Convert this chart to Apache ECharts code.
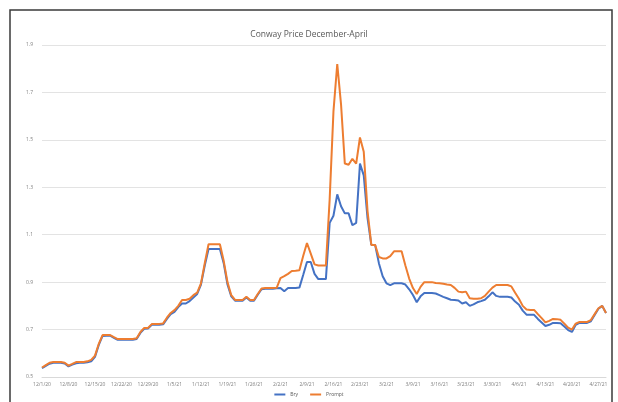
<!DOCTYPE html>
<html>
<head>
<meta charset="utf-8">
<script src="https://cdn.jsdelivr.net/npm/echarts@6/dist/echarts.min.js"></script>
<style>
  html, body { margin: 0; padding: 0; background: #ffffff; }
  #chart { width: 618px; height: 402px; }
</style>
</head>
<body>
<div id="chart"></div>
<script>
// Daily prices, 12/1/20 through 4/29/21
const startDate = new Date(2020, 11, 1);
const dayCount = 150;
const days = [];
for (let i = 0; i < dayCount; i++) {
  const d = new Date(startDate.getFullYear(), startDate.getMonth(), startDate.getDate() + i);
  days.push((d.getMonth() + 1) + '/' + d.getDate() + '/' + String(d.getFullYear()).slice(2));
}

const bry = [
  0.537, 0.547, 0.556, 0.56, 0.56, 0.56, 0.557, 0.545, 0.552, 0.558,
  0.56, 0.56, 0.562, 0.566, 0.585, 0.635, 0.673, 0.674, 0.674, 0.665,
  0.657, 0.657, 0.657, 0.657, 0.657, 0.66, 0.686, 0.703, 0.704, 0.72,
  0.72, 0.72, 0.722, 0.745, 0.765, 0.775, 0.795, 0.81, 0.81, 0.82,
  0.835, 0.85, 0.89, 0.97, 1.04, 1.04, 1.04, 1.04, 0.98, 0.89,
  0.84, 0.822, 0.822, 0.822, 0.835, 0.822, 0.822, 0.847, 0.87, 0.872,
  0.872, 0.872, 0.874, 0.875, 0.862, 0.875, 0.875, 0.875, 0.877, 0.93,
  0.985, 0.985, 0.935, 0.913, 0.913, 0.913, 1.15, 1.18, 1.27, 1.22,
  1.19, 1.19, 1.14, 1.15, 1.40, 1.35, 1.17, 1.057, 1.057, 0.98,
  0.925, 0.895, 0.887, 0.895, 0.895, 0.895, 0.89, 0.87, 0.846, 0.815,
  0.84, 0.854, 0.854, 0.854, 0.852, 0.845, 0.838, 0.832, 0.826, 0.825,
  0.823, 0.81, 0.815, 0.80, 0.806, 0.815, 0.82, 0.826, 0.84, 0.857,
  0.842, 0.838, 0.838, 0.838, 0.835, 0.818, 0.805, 0.78, 0.763, 0.762,
  0.762, 0.745, 0.73, 0.715, 0.72, 0.728, 0.728, 0.727, 0.713, 0.698,
  0.69, 0.72, 0.728, 0.728, 0.728, 0.735, 0.762, 0.788, 0.80, 0.77
];

const prompt = [
  0.54, 0.55, 0.56, 0.563, 0.563, 0.563, 0.56, 0.548, 0.555, 0.563,
  0.563, 0.563, 0.566, 0.572, 0.59, 0.64, 0.677, 0.677, 0.677, 0.668,
  0.66, 0.66, 0.66, 0.66, 0.66, 0.663, 0.69, 0.707, 0.707, 0.723,
  0.724, 0.724, 0.726, 0.75, 0.77, 0.782, 0.80, 0.825, 0.825, 0.83,
  0.845, 0.856, 0.895, 0.98, 1.06, 1.06, 1.06, 1.06, 0.99, 0.90,
  0.845, 0.825, 0.825, 0.825, 0.838, 0.825, 0.825, 0.85, 0.873, 0.875,
  0.875, 0.875, 0.876, 0.917, 0.925, 0.935, 0.947, 0.948, 0.95, 1.01,
  1.065, 1.02, 0.975, 0.97, 0.97, 0.97, 1.25, 1.62, 1.82, 1.65,
  1.40, 1.395, 1.42, 1.40, 1.51, 1.45, 1.20, 1.057, 1.057, 1.006,
  1.0, 1.0, 1.01, 1.03, 1.03, 1.03, 0.97, 0.915, 0.875, 0.85,
  0.88, 0.9, 0.9, 0.9, 0.896, 0.895, 0.893, 0.89, 0.888, 0.876,
  0.86, 0.857, 0.86, 0.832, 0.83, 0.83, 0.832, 0.842, 0.86, 0.877,
  0.888, 0.888, 0.888, 0.888, 0.882, 0.855, 0.83, 0.80, 0.785, 0.783,
  0.783, 0.765, 0.748, 0.73, 0.737, 0.745, 0.744, 0.741, 0.725, 0.708,
  0.70, 0.725, 0.732, 0.732, 0.732, 0.74, 0.765, 0.79, 0.80, 0.77
];

const seriesNames = ['Bry', 'Prompt'];
const seriesColors = ['#4472C4', '#ED7D31'];

const chart = echarts.init(document.getElementById('chart'), null, { renderer: 'canvas' });

chart.setOption({
  backgroundColor: '#ffffff',
  animation: false,
  title: {
    text: 'Conway Price December-April',
    left: 'center',
    top: 25,
    textStyle: { fontFamily: 'Open Sans', fontSize: 8.5, fontWeight: 'normal', color: '#595959' }
  },
  graphic: [{
    type: 'rect',
    shape: { x: 10, y: 10, width: 602, height: 400 },
    style: { fill: 'none', stroke: '#3a3a3a', lineWidth: 1.5 },
    silent: true
  }],
  legend: {
    data: seriesNames,
    bottom: 0,
    left: 'center',
    itemWidth: 11,
    itemHeight: 2,
    itemGap: 12,
    icon: 'rect',
    textStyle: { fontFamily: 'Open Sans', fontSize: 5, color: '#595959' }
  },
  grid: { left: 42, right: 12, top: 45, bottom: 25 },
  xAxis: {
    type: 'category',
    data: days,
    boundaryGap: false,
    axisLine: { lineStyle: { color: '#d9d9d9' } },
    axisTick: { show: false },
    axisLabel: {
      interval: 6,
      fontFamily: 'Open Sans',
      fontSize: 5,
      color: '#7f7f7f',
      margin: 5
    },
    splitLine: { show: false }
  },
  yAxis: {
    type: 'value',
    min: 0.5,
    max: 1.9,
    interval: 0.2,
    axisLine: { show: false },
    axisTick: { show: false },
    axisLabel: {
      fontFamily: 'Open Sans',
      fontSize: 5,
      color: '#7f7f7f',
      margin: 9,
      formatter: v => v.toFixed(1)
    },
    splitLine: { lineStyle: { color: '#e3e3e3', width: 1 } }
  },
  series: [
    {
      name: seriesNames[0],
      type: 'line',
      data: bry,
      symbol: 'none',
      color: seriesColors[0],
      lineStyle: { width: 2, color: seriesColors[0] }
    },
    {
      name: seriesNames[1],
      type: 'line',
      data: prompt,
      symbol: 'none',
      color: seriesColors[1],
      lineStyle: { width: 2, color: seriesColors[1] }
    }
  ]
});
</script>
</body>
</html>
